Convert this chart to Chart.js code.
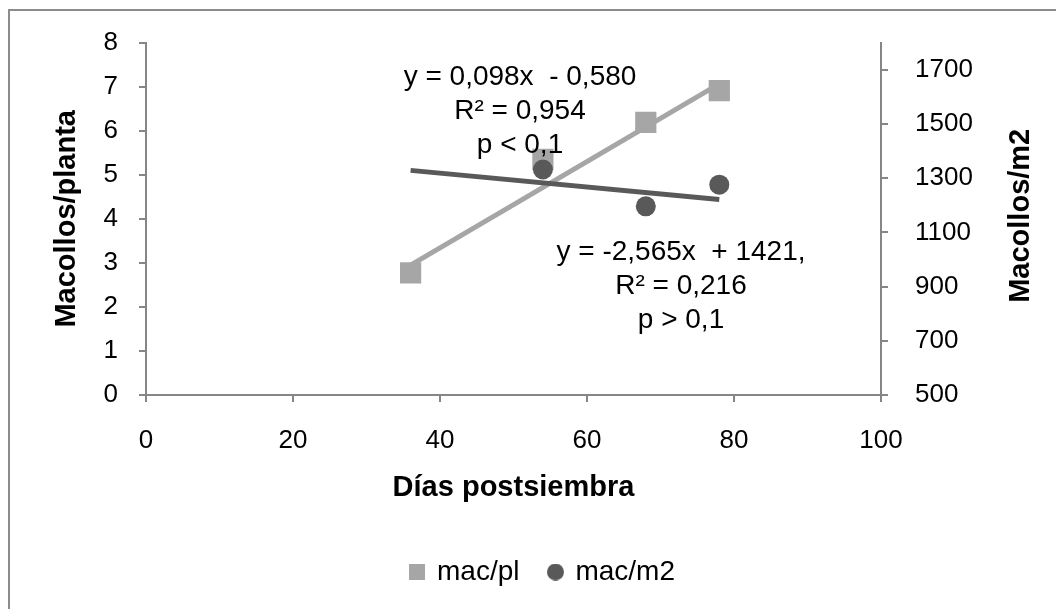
<!DOCTYPE html>
<html>
<head>
<meta charset="utf-8">
<script src="https://cdn.jsdelivr.net/npm/chart.js@4.4.1/dist/chart.umd.min.js"></script>
<style>
  html, body { margin: 0; padding: 0; background: #fff; }
  canvas { display: block; }
</style>
</head>
<body>
<canvas id="chart" width="1056" height="609"></canvas>
<script>
// data
const daysPl = [36, 54, 68, 78];
const macPl = [2.77, 5.35, 6.19, 6.91];
const daysM2 = [54, 68, 78];
const macM2 = [1332, 1196, 1276];

// trend lines: [slope, intercept] and x range
const trendPl = [0.098, -0.580];
const trendM2 = [-2.565, 1421];
const trendRange = [36, 78];

const xTicks = [0, 20, 40, 60, 80, 100];
const leftTicks = [0, 1, 2, 3, 4, 5, 6, 7, 8];
const rightTicks = [500, 700, 900, 1100, 1300, 1500, 1700];

const labelPl = ['y = 0,098x  - 0,580', 'R² = 0,954', 'p < 0,1'];
const labelM2 = ['y = -2,565x  + 1421,', 'R² = 0,216', 'p > 0,1'];
const rightTitle = 'Macollos/m2';

const lightGray = '#A6A6A6';
const darkGray = '#595959';
const axisGray = '#868686';
const FONT = "'Liberation Sans', Arial, sans-serif";

Chart.defaults.font.family = FONT;
Chart.defaults.color = '#000';

// where the plot area should sit
const plotTop = 42;
const plotBottom = 395;
const padLeft = 30;   // also pushes the legend right
const legendPadBottom = 13;
let xAxisHeight = 150;

const trendPoints = (coef) => trendRange.map(x => ({ x: x, y: coef[0] * x + coef[1] }));
const plainTick = v => String(v);

// small legend markers
function legendMark(color, round) {
  const c = document.createElement('canvas');
  c.width = round ? 17 : 16;
  c.height = c.width;
  const g = c.getContext('2d');
  g.fillStyle = color;
  if (round) {
    g.beginPath();
    g.arc(8.5, 8.5, 8.5, 0, Math.PI * 2);
    g.fill();
  } else {
    g.fillRect(0, 0, 16, 16);
  }
  return c;
}
const legendMarks = [legendMark(lightGray, false), legendMark(darkGray, true)];

// frame round the chart (only left and top edges fall inside the picture)
const framePlugin = {
  id: 'frame',
  beforeDraw(chart) {
    const ctx = chart.ctx;
    ctx.save();
    ctx.fillStyle = '#fff';
    ctx.fillRect(0, 0, chart.width, chart.height);
    ctx.strokeStyle = '#8C8C8C';
    ctx.lineWidth = 2;
    ctx.strokeRect(9, 10, chart.width + 20, chart.height + 20);
    ctx.restore();
  }
};

// regression equations and the right axis title (reads bottom to top)
const textPlugin = {
  id: 'texts',
  afterDatasetsDraw(chart) {
    const ctx = chart.ctx;
    const area = chart.chartArea;
    ctx.save();
    ctx.font = '28px ' + FONT;
    ctx.fillStyle = '#000';
    ctx.textAlign = 'center';
    ctx.textBaseline = 'middle';
    labelPl.forEach((t, i) => ctx.fillText(t, 520, 77 + i * 34));
    labelM2.forEach((t, i) => ctx.fillText(t, 681, 252 + i * 34));

    ctx.font = 'bold 29px ' + FONT;
    ctx.translate(1021, (area.top + area.bottom) / 2 - 3);
    ctx.rotate(-Math.PI / 2);
    ctx.fillText(rightTitle, 0, 0);
    ctx.restore();
  }
};

const axisGrid = { drawOnChartArea: false, drawTicks: true, tickLength: 7, color: axisGray, lineWidth: 2 };
const axisBorder = { color: axisGray, width: 2 };

const chart = new Chart(document.getElementById('chart'), {
  type: 'scatter',
  data: {
    datasets: [
      {
        label: 'mac/pl',
        data: daysPl.map((x, i) => ({ x: x, y: macPl[i] })),
        yAxisID: 'y',
        pointStyle: 'rect',
        pointRadius: 15,
        backgroundColor: lightGray,
        borderColor: lightGray,
        borderWidth: 0,
        order: 2
      },
      {
        label: 'mac/m2',
        data: daysM2.map((x, i) => ({ x: x, y: macM2[i] })),
        yAxisID: 'y2',
        pointStyle: 'circle',
        pointRadius: 10,
        backgroundColor: darkGray,
        borderColor: darkGray,
        borderWidth: 0,
        order: 1
      },
      {
        label: 'trend pl',
        type: 'line',
        data: trendPoints(trendPl),
        yAxisID: 'y',
        borderColor: lightGray,
        borderWidth: 5,
        pointRadius: 0,
        order: 4
      },
      {
        label: 'trend m2',
        type: 'line',
        data: trendPoints(trendM2),
        yAxisID: 'y2',
        borderColor: darkGray,
        borderWidth: 5,
        pointRadius: 0,
        order: 3
      }
    ]
  },
  options: {
    responsive: false,
    animation: false,
    layout: { padding: { top: plotTop, left: padLeft, right: 0, bottom: legendPadBottom } },
    plugins: {
      tooltip: { enabled: false },
      legend: {
        position: 'bottom',
        labels: {
          usePointStyle: true,
          boxWidth: 12,
          boxHeight: 12,
          padding: 30,
          font: { size: 28 },
          generateLabels: (chart) => {
            const items = Chart.defaults.plugins.legend.labels.generateLabels(chart)
              .filter(item => item.text.indexOf('trend') === -1)
              .sort((a, b) => a.datasetIndex - b.datasetIndex);
            items.forEach((item, i) => { item.pointStyle = legendMarks[i]; });
            return items;
          }
        }
      }
    },
    scales: {
      x: {
        type: 'linear',
        min: 0,
        max: 100,
        afterFit: s => { s.height = xAxisHeight; },
        afterBuildTicks: s => { s.ticks = xTicks.map(v => ({ value: v })); },
        ticks: { font: { size: 26 }, padding: 23, callback: plainTick },
        grid: axisGrid,
        border: axisBorder,
        title: {
          display: true,
          text: 'Días postsiembra',
          font: { size: 29, weight: 'bold' },
          padding: { top: 0, bottom: 30 }
        }
      },
      y: {
        position: 'left',
        min: 0,
        max: 8,
        afterFit: s => { s.width = 146 - padLeft; },
        afterBuildTicks: s => { s.ticks = leftTicks.map(v => ({ value: v })); },
        ticks: { font: { size: 26 }, padding: 21, callback: plainTick },
        grid: axisGrid,
        border: axisBorder,
        title: {
          display: true,
          text: 'Macollos/planta',
          font: { size: 29, weight: 'bold' },
          padding: { top: 50 - padLeft, bottom: 0 }
        }
      },
      y2: {
        position: 'right',
        min: 500,
        max: 1800,
        afterFit: s => { s.width = 175; },
        afterBuildTicks: s => { s.ticks = rightTicks.map(v => ({ value: v })); },
        ticks: { font: { size: 26 }, padding: 27, callback: plainTick },
        grid: axisGrid,
        border: axisBorder
      }
    }
  },
  plugins: [framePlugin, textPlugin]
});

// second pass: pin the bottom of the plot area above the legend
const legendH = chart.legend.height;
xAxisHeight = chart.height - legendPadBottom - legendH - plotBottom;
// title sits about 93px under the axis line
chart.options.scales.x.title.padding.bottom = Math.max(0, xAxisHeight - 93 - 17);
chart.update();
</script>
</body>
</html>
